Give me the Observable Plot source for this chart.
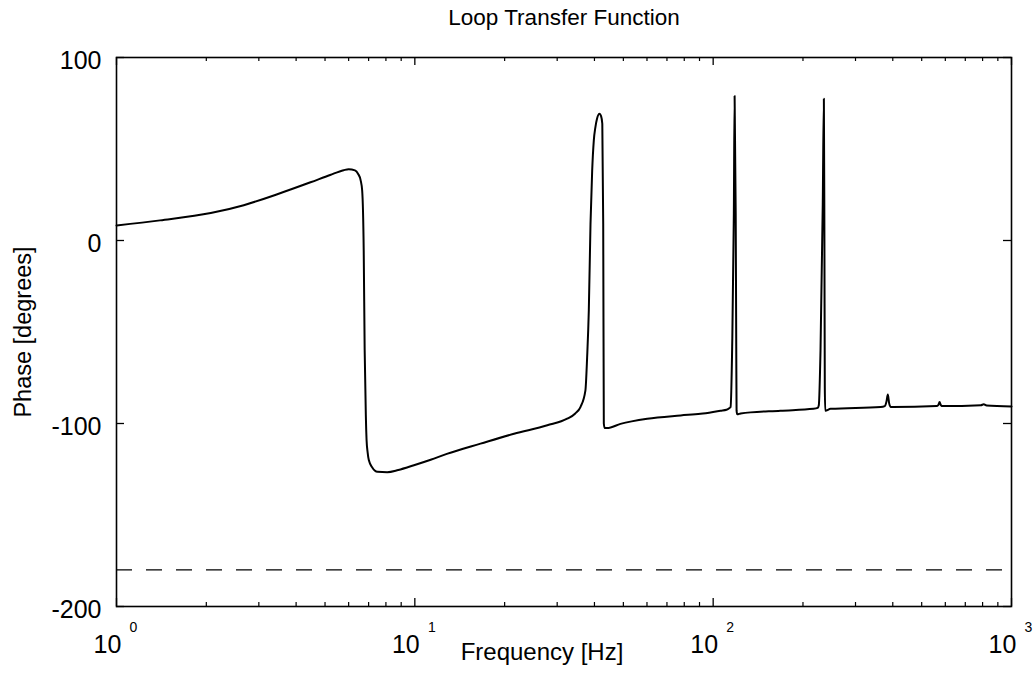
<!DOCTYPE html>
<html>
<head>
<meta charset="utf-8">
<script src="https://cdn.jsdelivr.net/npm/d3@7"></script>
<script src="https://cdn.jsdelivr.net/npm/@observablehq/plot@0.6"></script>
<style>
  html, body { margin: 0; padding: 0; background: #fff; }
</style>
</head>
<body>
<div id="chart"></div>
<script>
// ---- data ----
const freqHz = [
  1.0, 1.4, 2.07, 2.67, 3.46, 4.47, 5.2, 5.77, 6.0, 6.3, 6.45, 6.58, 6.66, 6.74, 6.79, 6.85, 6.89, 6.95, 7.01, 7.2, 7.49, 8.08, 8.8,
  9.93, 11.3, 12.8, 16.6, 21.5, 27.8, 32.4, 34.5, 35.9, 37.3, 37.8, 38.3, 38.8, 39.3, 39.8, 40.3, 40.8, 41.6, 42.1, 42.5, 42.8, 43.0, 43.3, 44.1,
  48.9, 60.1, 77.8, 90.7, 105.8, 110.9, 113.5, 114.4, 115.8, 117.3, 118.0, 119.0, 119.5, 119.8, 120.4, 123.6,
  168, 217, 224, 226, 229, 233, 235, 236, 236.7, 237.5, 247.5,
  364, 376, 381, 385, 389, 394, 400, 561, 568, 574, 580, 588, 790, 807, 825, 1000
];
const phaseDeg = [
  8.2, 11.0, 15.0, 19.3, 25.3, 31.8, 35.8, 38.4, 39.0, 38.3, 36.5, 33, 27.3, -5.5, -60, -95, -109, -116, -120, -124, -126.4, -126.6, -125.4,
  -122.8, -119.8, -116.6, -111, -105.6, -101, -97.4, -94.5, -91, -82, -64, -38, 9, 38, 54.6, 62, 66.5, 69.2, 68, 63.8, 9, -100, -102.5, -102.5,
  -100.2, -97.4, -95.6, -94.7, -93, -92.5, -91.5, -91, -58, 14.6, 79, 14.6, -58, -93, -95, -94.5,
  -93, -92, -91.5, -90, -60, 20, 77.4, 0, -80, -93, -92,
  -91, -90.5, -88, -84.2, -89, -91, -91, -90.5, -90, -88.3, -90, -90.5, -90, -89.5, -90.2, -90.7
];
const refPhase = [-180];
const xTickValues = [1, 10, 100, 1000];
const xTickExponents = ["0", "1", "2", "3"];
const xMinorTicks = [2, 3, 4, 5, 6, 7, 8, 9, 20, 30, 40, 50, 60, 70, 80, 90, 200, 300, 400, 500, 600, 700, 800, 900];
const yTickValues = [-200, -100, 0, 100];
const yTickLabels = ["-200", "-100", "0", "100"];
const titleText = "Loop Transfer Function";
const xLabel = "Frequency [Hz]";
const yLabel = "Phase [degrees]";

// ---- layout ----
const W = 1036, H = 675;
const mL = 116, mR = 25, mT = 57, mB = 69;
const xDomain = [1, 1000], yDomain = [-200, 100];
const plotW = W - mL - mR, plotH = H - mT - mB;
// convert pixel tick lengths into data units
const yPerPx = (yDomain[1] - yDomain[0]) / plotH;
const xDecPerPx = Math.log10(xDomain[1] / xDomain[0]) / plotW;
const majorLen = 8, minorLen = 4;
const font = "'Liberation Sans', Arial, Helvetica, sans-serif";

const curve = freqHz.map((f, i) => ({f, p: phaseDeg[i]}));

const chart = Plot.plot({
  width: W, height: H,
  marginLeft: mL, marginRight: mR, marginTop: mT, marginBottom: mB,
  x: {type: "log", domain: xDomain, axis: null},
  y: {domain: yDomain, axis: null},
  style: {fontFamily: font, background: "#fff", color: "#000"},
  marks: [
    Plot.ruleY(refPhase, {stroke: "#000", strokeWidth: 1.4, strokeDasharray: "16,14"}),
    Plot.line(curve, {x: "f", y: "p", curve: "monotone-x", stroke: "#000", strokeWidth: 2}),
    // x ticks bottom/top (inward)
    Plot.ruleX(xTickValues, {x: d => d, y1: yDomain[0], y2: yDomain[0] + majorLen * yPerPx, stroke: "#000", strokeWidth: 1.3}),
    Plot.ruleX(xTickValues, {x: d => d, y1: yDomain[1], y2: yDomain[1] - majorLen * yPerPx, stroke: "#000", strokeWidth: 1.3}),
    Plot.ruleX(xMinorTicks, {x: d => d, y1: yDomain[0], y2: yDomain[0] + minorLen * yPerPx, stroke: "#000", strokeWidth: 1.2}),
    Plot.ruleX(xMinorTicks, {x: d => d, y1: yDomain[1], y2: yDomain[1] - minorLen * yPerPx, stroke: "#000", strokeWidth: 1.2}),
    // y ticks left/right (inward)
    Plot.ruleY(yTickValues, {y: d => d, x1: xDomain[0], x2: xDomain[0] * Math.pow(10, majorLen * xDecPerPx), stroke: "#000", strokeWidth: 1.3}),
    Plot.ruleY(yTickValues, {y: d => d, x1: xDomain[1], x2: xDomain[1] / Math.pow(10, majorLen * xDecPerPx), stroke: "#000", strokeWidth: 1.3}),
    Plot.frame({stroke: "#000", strokeWidth: 1.6}),
    // tick labels
    Plot.text(yTickValues, {y: d => d, text: (d, i) => yTickLabels[i], frameAnchor: "left", textAnchor: "end", lineAnchor: "middle", dx: -15, dy: 3, fontSize: 25}),
    Plot.text(xTickValues, {x: d => d, text: () => "10", frameAnchor: "bottom", textAnchor: "middle", lineAnchor: "middle", dx: -9, dy: 38, fontSize: 25}),
    Plot.text(xTickValues, {x: d => d, text: (d, i) => xTickExponents[i], frameAnchor: "bottom", textAnchor: "middle", lineAnchor: "middle", dx: 17, dy: 21, fontSize: 14}),
    // titles
    Plot.text([titleText], {frameAnchor: "top", textAnchor: "middle", lineAnchor: "middle", dy: -40, fontSize: 22.5}),
    Plot.text([xLabel], {frameAnchor: "bottom", textAnchor: "middle", lineAnchor: "middle", dx: -22, dy: 46, fontSize: 24}),
    Plot.text([yLabel], {frameAnchor: "left", textAnchor: "middle", lineAnchor: "middle", rotate: -90, dx: -93, fontSize: 23.5})
  ]
});
document.getElementById("chart").appendChild(chart);
</script>
</body>
</html>
